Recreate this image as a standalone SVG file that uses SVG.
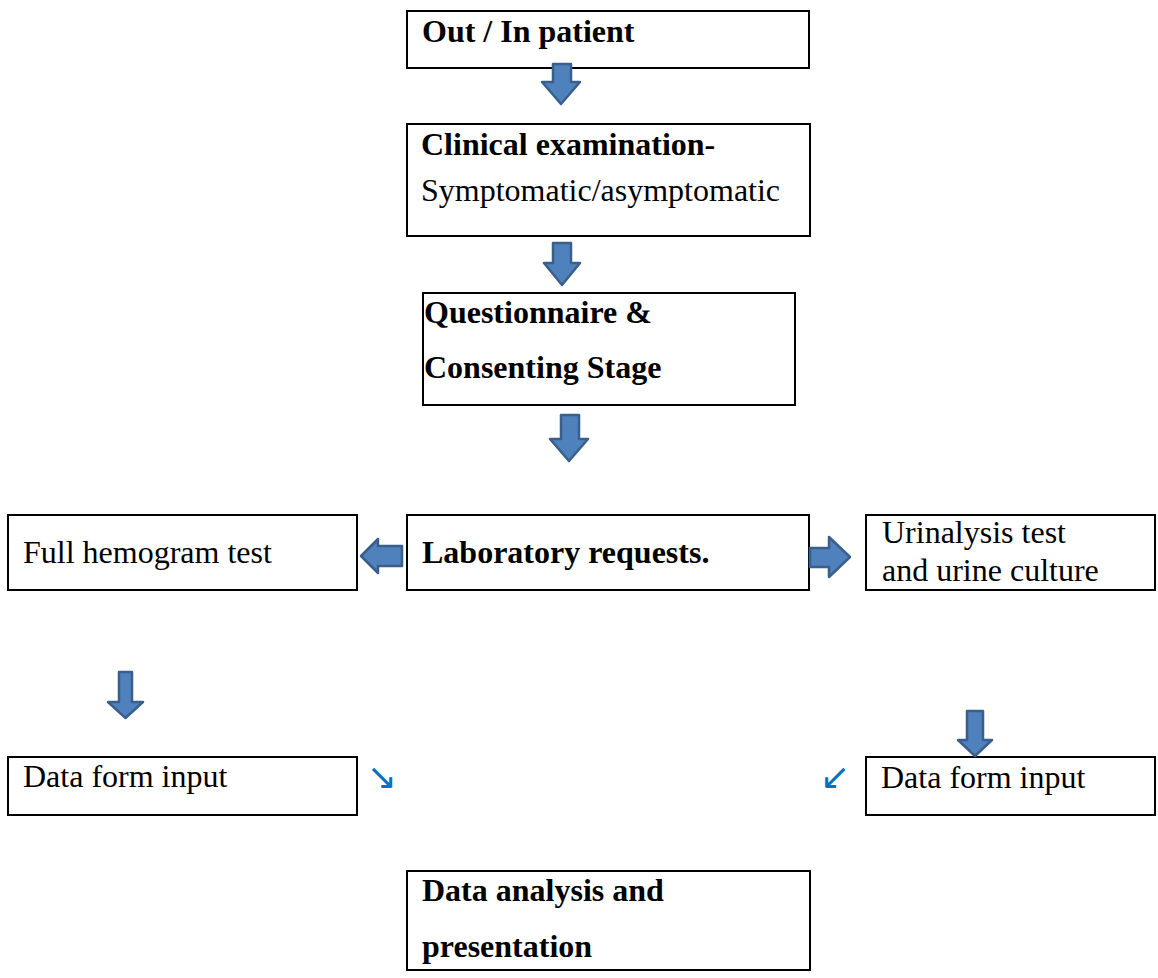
<svg xmlns="http://www.w3.org/2000/svg" width="1158" height="978" viewBox="0 0 1158 978">
<style>
.box{fill:#ffffff;stroke:#000000;stroke-width:2}
.t{font-family:"Liberation Serif","Times New Roman",serif;font-size:32px;fill:#000000}
.b{font-weight:bold}
.arr{fill:#4F81BD;stroke:#3A5F8C;stroke-width:2.5;stroke-linejoin:round}
.sm{font-family:"DejaVu Sans",sans-serif;font-size:36px;fill:#0070C0}
</style>
<rect width="1158" height="978" fill="#ffffff"/>
<g id="n1"><rect class="box" x="407" y="11" width="402" height="57"/><text class="t b" x="422" y="42">Out / In patient</text></g>
<g id="n2"><rect class="box" x="407" y="124" width="403" height="112"/><text class="t b" x="421" y="155">Clinical examination-</text><text class="t" x="421" y="201">Symptomatic/asymptomatic</text></g>
<g id="n3"><rect class="box" x="423" y="293" width="372" height="112"/><text class="t b" x="424" y="323">Questionnaire &amp;</text><text class="t b" x="424" y="378">Consenting Stage</text></g>
<g id="n4"><rect class="box" x="407" y="515" width="402" height="75"/><text class="t b" x="422" y="563">Laboratory requests.</text></g>
<g id="n5"><rect class="box" x="8" y="515" width="349" height="75"/><text class="t" x="23" y="563">Full hemogram test</text></g>
<g id="n6"><rect class="box" x="866" y="515" width="289" height="75"/><text class="t" x="882" y="543">Urinalysis test</text><text class="t" x="882" y="581">and urine culture</text></g>
<g id="n7"><rect class="box" x="8" y="757" width="349" height="58"/><text class="t" x="23" y="787">Data form input</text></g>
<g id="n8"><rect class="box" x="866" y="757" width="289" height="58"/><text class="t" x="881" y="788">Data form input</text></g>
<g id="n9"><rect class="box" x="407" y="871" width="403" height="99"/><text class="t b" x="422" y="901">Data analysis and</text><text class="t b" x="422" y="957">presentation</text></g>
<g id="connectors">
<path class="arr" d="M553,64 L571,64 L571,82 L580,82 L561,104 L542,82 L553,82 Z"/>
<path class="arr" d="M553,243 L571,243 L571,263 L580,263 L562,285 L544,263 L553,263 Z"/>
<path class="arr" d="M561,415 L579,415 L579,439 L588,439 L569,461 L550,439 L561,439 Z"/>
<path class="arr" d="M402,546 L402,566 L378,566 L378,573 L361,556 L378,539 L378,546 Z"/>
<path class="arr" d="M810,548 L829,548 L829,537 L850,557 L829,577 L829,567 L810,567 Z"/>
<path class="arr" d="M119,672 L132,672 L132,702 L143,702 L125.5,718 L108,702 L119,702 Z"/>
<path class="arr" d="M967,711 L983,711 L983,740 L992,740 L975,756 L958,740 L967,740 Z"/>
<text class="sm" x="367" y="789">↘</text>
<text class="sm" x="820" y="789">↙</text>
</g>
</svg>
